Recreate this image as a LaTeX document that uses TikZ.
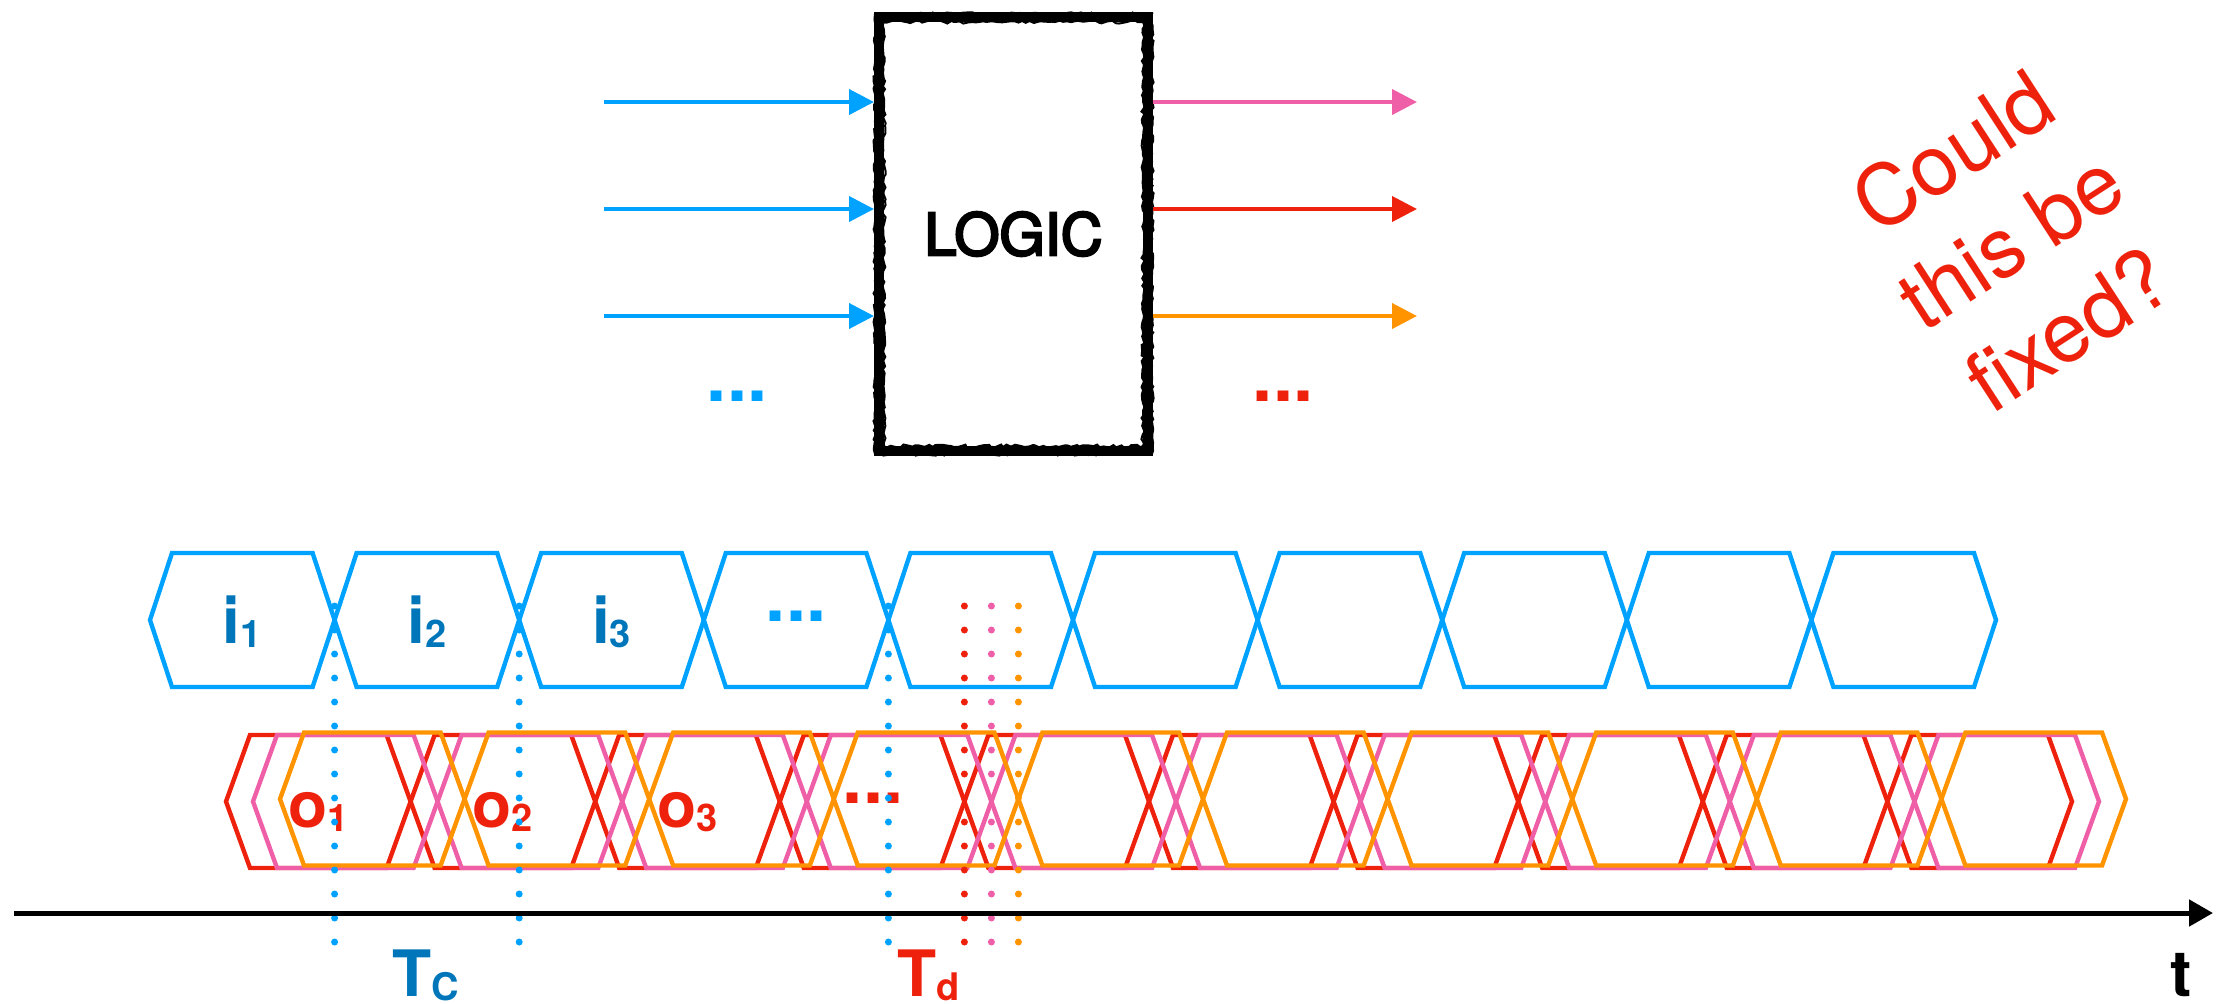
\documentclass[tikz,border=0pt]{standalone}
\usepackage{fontspec}
\setmainfont{TeX Gyre Heros}
\newfontfamily\blockfont{TeX Gyre Heros}[FakeBold=4]
\usetikzlibrary{arrows.meta,decorations.pathmorphing}

\definecolor{inblue}{HTML}{00A2FF}
\definecolor{labblue}{HTML}{0076BA}
\definecolor{outred}{HTML}{EE220C}
\definecolor{outpink}{HTML}{EF5FA7}
\definecolor{outorange}{HTML}{FF9300}

% bold signal name with a small index
\newcommand{\siglabel}[2]{\textbf{#1\raisebox{-2pt}{\fontsize{19}{19}\selectfont #2}}}

\begin{document}
\begin{tikzpicture}[x=0.5pt, y=-0.5pt]

\useasboundingbox (0,0) rectangle (2228,1003);

\tikzstyle{every node} = [inner sep=0pt, font=\fontsize{32}{32}\selectfont]
\tikzstyle{wire} = [line width=2pt, -{Triangle[length=12.5pt, width=12.5pt]}]
\tikzstyle{wave} = [line width=2.2pt]
\tikzstyle{guide} = [line width=3.5pt, line cap=round, dash pattern=on 0pt off 12pt]
\tikzstyle{rough} = [line width=1pt, decorate, decoration={random steps, segment length=2pt, amplitude=0.8pt}]
\tikzstyle{more} = [font=\fontsize{36}{36}\selectfont\bfseries]

% the logic block
\node (logic) [draw, line width=5pt, minimum width=134.5pt, minimum height=217pt, font=\fontsize{29}{29}\blockfont] at (1013.5,234) {LOGIC};
\draw[rough] (875,14) rectangle (1152,454);
\draw[rough] (884,22) rectangle (1143,446);

% inputs and outputs
\coordinate (a1) at (604,102);
\coordinate (a2) at (604,209);
\coordinate (a3) at (604,316);
\coordinate (b1) at (1417,102);
\coordinate (b2) at (1417,209);
\coordinate (b3) at (1417,316);

\draw[wire, inblue] (a1) -- (a1 -| logic.west);
\draw[wire, inblue] (a2) -- (a2 -| logic.west);
\draw[wire, inblue] (a3) -- (a3 -| logic.west);
\draw[wire, outpink] (b1 -| logic.east) -- (b1);
\draw[wire, outred] (b2 -| logic.east) -- (b2);
\draw[wire, outorange] (b3 -| logic.east) -- (b3);

\node (moreins) [more, text=inblue] at (737,396) {...};
\node (moreouts) [more, text=outred] at (1283,396) {...};

\node (fix) [rotate=33, align=center, text=outred, font=\fontsize{42}{53}\selectfont] at (2010,240) {Could\\this be\\fixed?};

% values on the inputs and the outputs over time
\foreach \k in {0,...,9}
  \draw[wave, inblue] ({150+184.6*\k},620) -- ++(22,-67) -- ++(140.6,0) -- ++(22,67) -- ++(-22,67) -- ++(-140.6,0) -- cycle;
\foreach \s/\m/\c in {226/801.5/outred, 253/801.5/outpink, 280/799/outorange}
  \foreach \k in {0,...,9}
    \draw[wave, \c] ({\s+184.6*\k},\m) -- ++(24,-66.5) -- ++(136.6,0) -- ++(24,66.5) -- ++(-24,66.5) -- ++(-136.6,0) -- cycle;

\node (i1) [anchor=base, text=labblue] at (242.3,643) {\siglabel{i}{1}};
\node (i2) [anchor=base, text=labblue] at (426.9,643) {\siglabel{i}{2}};
\node (i3) [anchor=base, text=labblue] at (611.5,643) {\siglabel{i}{3}};
\node (imore) [more, text=inblue] at (796,616) {...};

\node (o1) [anchor=base, text=outred] at (318.3,827) {\siglabel{o}{1}};
\node (o2) [anchor=base, text=outred] at (502.9,827) {\siglabel{o}{2}};
\node (o3) [anchor=base, text=outred] at (687.5,827) {\siglabel{o}{3}};
\node (omore) [more, text=outred] at (873,798) {...};

% clock period and delay marks
\foreach \x/\c in {334.6/inblue, 519.2/inblue, 888.4/inblue, 964.4/outred, 991.4/outpink, 1018.4/outorange}
  \draw[guide, \c] (\x,606) -- (\x,943);

% time axis
\coordinate (t0) at (14,913);
\coordinate (t1) at (2213,913);
\draw[line width=2.5pt, -{Triangle[length=12pt, width=13pt]}] (t0) -- (t1);

\node (t) [anchor=base] at (2181,996) {\textbf{t}};
\node (tc) [anchor=base, text=labblue] at (425.5,996) {\siglabel{T}{C}};
\node (td) [anchor=base, text=outred] at (929,996) {\siglabel{T}{d}};

\end{tikzpicture}
\end{document}
